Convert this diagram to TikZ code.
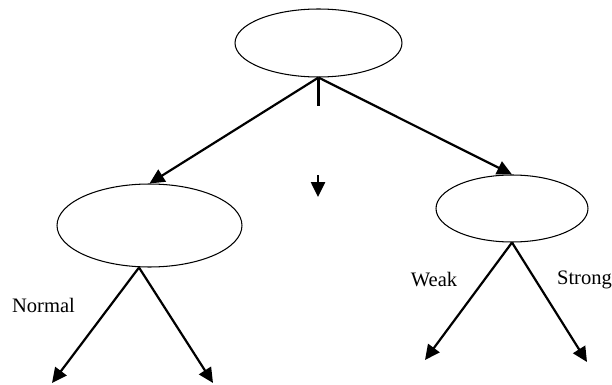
\documentclass[tikz,border=0pt]{standalone}
\usepackage{fontspec}
\setmainfont{Liberation Serif}
\usetikzlibrary{arrows.meta,positioning,shapes}

\tikzset{
    state/.style={draw, ellipse, line width=0.6pt, inner sep=0pt},
    branch/.style={line width=1.25pt, -{Triangle[length=8.5pt,width=8pt]}},
    label/.style={inner sep=0pt, font=\fontsize{11.7}{14}\selectfont}
}

\begin{document}
\begin{tikzpicture}[x=0.02cm,y=-0.02cm]
                \useasboundingbox (0,0) rectangle (612,385);

                \node [state, minimum width=3.34cm, minimum height=1.36cm] (s0) at (318.5,43) {};
                \node [state, minimum width=3.7cm, minimum height=1.66cm] (s1) at (149.5,225.5) {};
                \node [state, minimum width=3.04cm, minimum height=1.34cm] (s2) at (512,208.5) {};

                % free ends
                \coordinate (stub) at (318.5,106);
                \coordinate (mid1) at (318,175);
                \coordinate (mid2) at (318,197);
                \coordinate (fork) at ([xshift=-0.21cm]s1.south);
                \coordinate (a1) at (52,383);
                \coordinate (a2) at (213,383);
                \coordinate (b1) at (425,360);
                \coordinate (b2) at (587,362);

                \draw [branch] (s0.south) -- (s1.north);
                \draw [branch] (s0.south) -- (s2.north);
                \draw [line width=1.25pt] (s0.south) -- (stub);
                \draw [branch] (mid1) -- (mid2);

                \draw [branch] (fork) -- (a1);
                \draw [branch] (fork) -- (a2);
                \draw [branch] (s2.south) -- (b1);
                \draw [branch] (s2.south) -- (b2);

                \node [label] (normal) at (43.5,305) {Normal};
                \node [label] (weak) at (434,280) {Weak};
                \node [label] (strong) at (584.5,280) {Strong};
\end{tikzpicture}
\end{document}
